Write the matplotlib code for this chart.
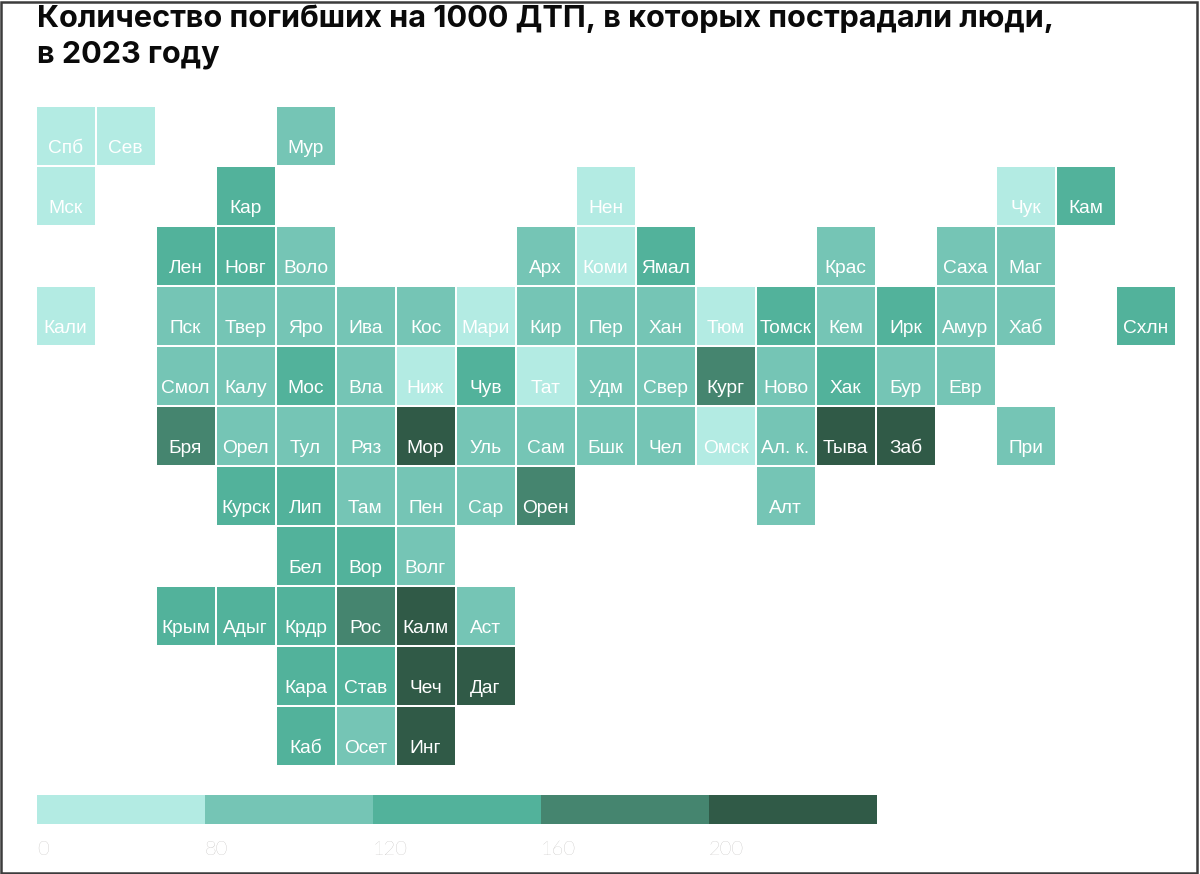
import numpy as np
import matplotlib
matplotlib.use("Agg")
import matplotlib.pyplot as plt
from matplotlib.colors import ListedColormap, BoundaryNorm
from matplotlib.patches import Rectangle

title = "Количество погибших на 1000 ДТП, в которых пострадали люди,\nв 2023 году"

# Tile map: one list per grid row, "" marks an empty place
region_rows = [
    ["Спб","Сев","","","Мур","","","","","","","","","","","","","",""],
    ["Мск","","","Кар","","","","","","Нен","","","","","","","Чук","Кам",""],
    ["","","Лен","Новг","Воло","","","","Арх","Коми","Ямал","","","Крас","","Саха","Маг","",""],
    ["Кали","","Пск","Твер","Яро","Ива","Кос","Мари","Кир","Пер","Хан","Тюм","Томск","Кем","Ирк","Амур","Хаб","","Схлн"],
    ["","","Смол","Калу","Мос","Вла","Ниж","Чув","Тат","Удм","Свер","Кург","Ново","Хак","Бур","Евр","","",""],
    ["","","Бря","Орел","Тул","Ряз","Мор","Уль","Сам","Бшк","Чел","Омск","Ал. к.","Тыва","Заб","","При","",""],
    ["","","","Курск","Лип","Там","Пен","Сар","Орен","","","","Алт","","","","","",""],
    ["","","","","Бел","Вор","Волг","","","","","","","","","","","",""],
    ["","","Крым","Адыг","Крдр","Рос","Калм","Аст","","","","","","","","","","",""],
    ["","","","","Кара","Став","Чеч","Даг","","","","","","","","","","",""],
    ["","","","","Каб","Осет","Инг","","","","","","","","","","","",""],
]
# Estimated values, read from the colour class of each tile
N = np.nan
value_rows = [
    [60,60,N,N,100,N,N,N,N,N,N,N,N,N,N,N,N,N,N],
    [60,N,N,140,N,N,N,N,N,60,N,N,N,N,N,N,60,140,N],
    [N,N,140,140,100,N,N,N,100,60,140,N,N,100,N,100,100,N,N],
    [60,N,100,100,100,100,100,60,100,100,100,60,140,100,140,100,100,N,140],
    [N,N,100,100,140,100,60,140,60,100,100,180,100,140,100,100,N,N,N],
    [N,N,180,100,100,100,220,100,100,100,100,60,100,220,220,N,100,N,N],
    [N,N,N,140,140,100,100,100,180,N,N,N,100,N,N,N,N,N,N],
    [N,N,N,N,140,140,100,N,N,N,N,N,N,N,N,N,N,N,N],
    [N,N,140,140,140,180,220,100,N,N,N,N,N,N,N,N,N,N,N],
    [N,N,N,N,140,140,220,220,N,N,N,N,N,N,N,N,N,N,N],
    [N,N,N,N,140,100,220,N,N,N,N,N,N,N,N,N,N,N,N],
]
bin_edges = [0, 80, 120, 160, 200, 240]
legend_ticks = [0, 80, 120, 160, 200]
bin_colors = ["#B3EBE3", "#75C5B5", "#52B29B", "#45856F", "#305A47"]

W, H = 1200, 874
fig = plt.figure(figsize=(W / 100, H / 100), dpi=100, facecolor="white")

def px_axes(x0, y0, x1, y1):
    return fig.add_axes([x0 / W, 1 - y1 / H, (x1 - x0) / W, (y1 - y0) / H])

cmap = ListedColormap(bin_colors)
norm = BoundaryNorm(bin_edges, cmap.N)

ax = px_axes(35.5, 105.5, 1175.5, 765.5)
data = np.ma.masked_invalid(np.array(value_rows, dtype=float))
ax.pcolormesh(data, cmap=cmap, norm=norm, edgecolors="white", linewidth=1.4)
ax.set_ylim(len(value_rows), 0)
ax.axis("off")
for r, row in enumerate(region_rows):
    for c, name in enumerate(row):
        if name:
            ax.text(c + 0.5, r + 0.72, name, ha="center", va="center",
                    color="white", fontsize=13.8, family="Liberation Sans")

cax = px_axes(37, 795, 877, 824)
cb = fig.colorbar(plt.cm.ScalarMappable(norm=norm, cmap=cmap), cax=cax,
                  orientation="horizontal", spacing="uniform", ticks=legend_ticks)
cb.outline.set_visible(False)
cb.ax.minorticks_off()
cb.ax.tick_params(which="both", length=0, pad=12, labelcolor="#A8A5A2")
for t in cb.ax.get_xticklabels():
    t.set_ha("left")
    t.set_fontfamily("Lato")
    t.set_fontweight("light")
    t.set_fontsize(14.5)

fig.text(37 / W, 1 - 4 / H, title, ha="left", va="top", fontsize=22.1,
         fontweight="bold", family="Inter", color="#0A0A0A", linespacing=1.36)

fig.add_artist(Rectangle((0.5 / W, 1.5 / H), (W - 3.5) / W, (H - 3) / H,
                         transform=fig.transFigure, fill=False,
                         edgecolor="#3C3C3C", linewidth=1.8))

fig.savefig("out.png", dpi=100)
